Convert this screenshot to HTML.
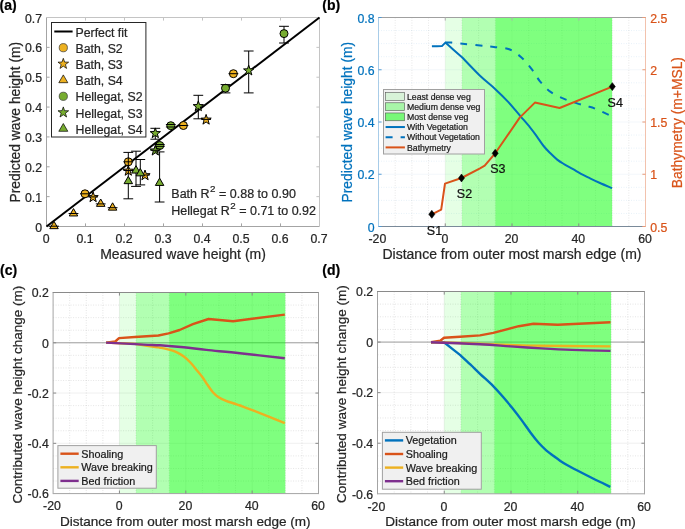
<!DOCTYPE html>
<html><head><meta charset="utf-8"><style>
html,body{margin:0;padding:0;background:#fff;}
svg{display:block;will-change:transform;}
text{font-family:"Liberation Sans", sans-serif;stroke:currentColor;stroke-width:0.22px;}
</style></head><body>
<svg width="685" height="529" viewBox="0 0 685 529">
<rect width="685" height="529" fill="#fff"/>
<g id="pa">
<line x1="46.5" y1="226.5" x2="319.5" y2="226.5" stroke="#a4a4a4" stroke-width="1" />
<line x1="46.5" y1="227" x2="46.5" y2="17.5" stroke="#a4a4a4" stroke-width="1" />
<line x1="46" y1="17.5" x2="320" y2="17.5" stroke="#c4c4c4" stroke-width="1" />
<line x1="319.5" y1="17.5" x2="319.5" y2="226.5" stroke="#c4c4c4" stroke-width="1" />
<text x="46.1" y="243.4" font-size="12.3" text-anchor="middle" fill="#262626" color="#262626" font-weight="normal" >0</text>
<text x="42" y="231.5" font-size="12.3" text-anchor="end" fill="#262626" color="#262626" font-weight="normal" >0</text>
<line x1="85.5" y1="226.5" x2="85.5" y2="223.4" stroke="#a4a4a4" stroke-width="1" />
<line x1="85.5" y1="17.5" x2="85.5" y2="20.6" stroke="#c4c4c4" stroke-width="1" />
<line x1="46.5" y1="196.64" x2="49.6" y2="196.64" stroke="#a4a4a4" stroke-width="1" />
<line x1="319.5" y1="196.64" x2="316.4" y2="196.64" stroke="#c4c4c4" stroke-width="1" />
<text x="85.1" y="243.4" font-size="12.3" text-anchor="middle" fill="#262626" color="#262626" font-weight="normal" >0.1</text>
<text x="42" y="201.64" font-size="12.3" text-anchor="end" fill="#262626" color="#262626" font-weight="normal" >0.1</text>
<line x1="124.5" y1="226.5" x2="124.5" y2="223.4" stroke="#a4a4a4" stroke-width="1" />
<line x1="124.5" y1="17.5" x2="124.5" y2="20.6" stroke="#c4c4c4" stroke-width="1" />
<line x1="46.5" y1="166.79" x2="49.6" y2="166.79" stroke="#a4a4a4" stroke-width="1" />
<line x1="319.5" y1="166.79" x2="316.4" y2="166.79" stroke="#c4c4c4" stroke-width="1" />
<text x="124.1" y="243.4" font-size="12.3" text-anchor="middle" fill="#262626" color="#262626" font-weight="normal" >0.2</text>
<text x="42" y="171.79" font-size="12.3" text-anchor="end" fill="#262626" color="#262626" font-weight="normal" >0.2</text>
<line x1="163.5" y1="226.5" x2="163.5" y2="223.4" stroke="#a4a4a4" stroke-width="1" />
<line x1="163.5" y1="17.5" x2="163.5" y2="20.6" stroke="#c4c4c4" stroke-width="1" />
<line x1="46.5" y1="136.93" x2="49.6" y2="136.93" stroke="#a4a4a4" stroke-width="1" />
<line x1="319.5" y1="136.93" x2="316.4" y2="136.93" stroke="#c4c4c4" stroke-width="1" />
<text x="163.1" y="243.4" font-size="12.3" text-anchor="middle" fill="#262626" color="#262626" font-weight="normal" >0.3</text>
<text x="42" y="141.93" font-size="12.3" text-anchor="end" fill="#262626" color="#262626" font-weight="normal" >0.3</text>
<line x1="202.5" y1="226.5" x2="202.5" y2="223.4" stroke="#a4a4a4" stroke-width="1" />
<line x1="202.5" y1="17.5" x2="202.5" y2="20.6" stroke="#c4c4c4" stroke-width="1" />
<line x1="46.5" y1="107.07" x2="49.6" y2="107.07" stroke="#a4a4a4" stroke-width="1" />
<line x1="319.5" y1="107.07" x2="316.4" y2="107.07" stroke="#c4c4c4" stroke-width="1" />
<text x="202.1" y="243.4" font-size="12.3" text-anchor="middle" fill="#262626" color="#262626" font-weight="normal" >0.4</text>
<text x="42" y="112.07" font-size="12.3" text-anchor="end" fill="#262626" color="#262626" font-weight="normal" >0.4</text>
<line x1="241.5" y1="226.5" x2="241.5" y2="223.4" stroke="#a4a4a4" stroke-width="1" />
<line x1="241.5" y1="17.5" x2="241.5" y2="20.6" stroke="#c4c4c4" stroke-width="1" />
<line x1="46.5" y1="77.21" x2="49.6" y2="77.21" stroke="#a4a4a4" stroke-width="1" />
<line x1="319.5" y1="77.21" x2="316.4" y2="77.21" stroke="#c4c4c4" stroke-width="1" />
<text x="241.1" y="243.4" font-size="12.3" text-anchor="middle" fill="#262626" color="#262626" font-weight="normal" >0.5</text>
<text x="42" y="82.21" font-size="12.3" text-anchor="end" fill="#262626" color="#262626" font-weight="normal" >0.5</text>
<line x1="280.5" y1="226.5" x2="280.5" y2="223.4" stroke="#a4a4a4" stroke-width="1" />
<line x1="280.5" y1="17.5" x2="280.5" y2="20.6" stroke="#c4c4c4" stroke-width="1" />
<line x1="46.5" y1="47.36" x2="49.6" y2="47.36" stroke="#a4a4a4" stroke-width="1" />
<line x1="319.5" y1="47.36" x2="316.4" y2="47.36" stroke="#c4c4c4" stroke-width="1" />
<text x="280.1" y="243.4" font-size="12.3" text-anchor="middle" fill="#262626" color="#262626" font-weight="normal" >0.6</text>
<text x="42" y="52.36" font-size="12.3" text-anchor="end" fill="#262626" color="#262626" font-weight="normal" >0.6</text>
<text x="319.1" y="243.4" font-size="12.3" text-anchor="middle" fill="#262626" color="#262626" font-weight="normal" >0.7</text>
<text x="42" y="22.5" font-size="12.3" text-anchor="end" fill="#262626" color="#262626" font-weight="normal" >0.7</text>
<text x="183" y="259.2" font-size="14" text-anchor="middle" fill="#262626" color="#262626" font-weight="normal" >Measured wave height (m)</text>
<text transform="translate(19.9,122.2) rotate(-90)" font-size="13.85" text-anchor="middle" fill="#262626" color="#262626">Predicted wave height (m)</text>
<line x1="46.5" y1="226.5" x2="319.5" y2="17.5" stroke="#000" stroke-width="2" />
<circle cx="85" cy="193.8" r="4.0" fill="#EDB120" stroke="#000" stroke-width="1"/>
<circle cx="128.3" cy="161.8" r="4.0" fill="#EDB120" stroke="#000" stroke-width="1"/>
<circle cx="183.4" cy="125.5" r="4.0" fill="#EDB120" stroke="#000" stroke-width="1"/>
<circle cx="233.4" cy="73.7" r="4.0" fill="#EDB120" stroke="#000" stroke-width="1"/>
<line x1="80.1" y1="193.8" x2="89.9" y2="193.8" stroke="#000" stroke-width="1" />
<line x1="123.4" y1="161.8" x2="133.2" y2="161.8" stroke="#000" stroke-width="1" />
<line x1="178.5" y1="125.5" x2="188.3" y2="125.5" stroke="#000" stroke-width="1" />
<line x1="228.5" y1="73.7" x2="238.3" y2="73.7" stroke="#000" stroke-width="1" />
<polygon points="93.10,191.90 94.37,195.55 98.24,195.63 95.15,197.97 96.27,201.67 93.10,199.46 89.93,201.67 91.05,197.97 87.96,195.63 91.83,195.55" fill="#EDB120" stroke="#000" stroke-width="1" stroke-linejoin="miter"/>
<polygon points="128.30,165.50 129.57,169.15 133.44,169.23 130.35,171.57 131.47,175.27 128.30,173.06 125.13,175.27 126.25,171.57 123.16,169.23 127.03,169.15" fill="#EDB120" stroke="#000" stroke-width="1" stroke-linejoin="miter"/>
<polygon points="145.00,170.00 146.27,173.65 150.14,173.73 147.05,176.07 148.17,179.77 145.00,177.56 141.83,179.77 142.95,176.07 139.86,173.73 143.73,173.65" fill="#EDB120" stroke="#000" stroke-width="1" stroke-linejoin="miter"/>
<polygon points="206.10,114.40 207.37,118.05 211.24,118.13 208.15,120.47 209.27,124.17 206.10,121.96 202.93,124.17 204.05,120.47 200.96,118.13 204.83,118.05" fill="#EDB120" stroke="#000" stroke-width="1" stroke-linejoin="miter"/>
<line x1="88.2" y1="196.9" x2="98" y2="196.9" stroke="#000" stroke-width="1" />
<line x1="123.4" y1="170.5" x2="133.2" y2="170.5" stroke="#000" stroke-width="1" />
<line x1="140.1" y1="175" x2="149.9" y2="175" stroke="#000" stroke-width="1" />
<line x1="201.2" y1="119.4" x2="211" y2="119.4" stroke="#000" stroke-width="1" />
<polygon points="54.00,221.30 58.24,228.65 49.76,228.65" fill="#EDB120" stroke="#000" stroke-width="1" stroke-linejoin="miter"/>
<polygon points="73.50,208.60 77.74,215.95 69.26,215.95" fill="#EDB120" stroke="#000" stroke-width="1" stroke-linejoin="miter"/>
<polygon points="100.70,199.00 104.94,206.35 96.46,206.35" fill="#EDB120" stroke="#000" stroke-width="1" stroke-linejoin="miter"/>
<polygon points="112.60,202.80 116.84,210.15 108.36,210.15" fill="#EDB120" stroke="#000" stroke-width="1" stroke-linejoin="miter"/>
<line x1="49.1" y1="226.2" x2="58.9" y2="226.2" stroke="#000" stroke-width="1" />
<line x1="68.6" y1="213.5" x2="78.4" y2="213.5" stroke="#000" stroke-width="1" />
<line x1="95.8" y1="203.9" x2="105.6" y2="203.9" stroke="#000" stroke-width="1" />
<line x1="107.7" y1="207.7" x2="117.5" y2="207.7" stroke="#000" stroke-width="1" />
<line x1="159.8" y1="144.5" x2="159.8" y2="146.4" stroke="#000" stroke-width="1" />
<line x1="170.8" y1="124.5" x2="170.8" y2="127" stroke="#000" stroke-width="1" />
<line x1="225.5" y1="84.6" x2="225.5" y2="92.9" stroke="#000" stroke-width="1" />
<line x1="284" y1="26.3" x2="284" y2="43" stroke="#000" stroke-width="1" />
<circle cx="159.8" cy="145.5" r="4.0" fill="#77AC30" stroke="#000" stroke-width="1"/>
<circle cx="170.8" cy="125.7" r="4.0" fill="#77AC30" stroke="#000" stroke-width="1"/>
<circle cx="225.5" cy="88.2" r="4.0" fill="#77AC30" stroke="#000" stroke-width="1"/>
<circle cx="284" cy="33.6" r="4.0" fill="#77AC30" stroke="#000" stroke-width="1"/>
<line x1="154.9" y1="144.5" x2="164.7" y2="144.5" stroke="#000" stroke-width="1" />
<line x1="154.9" y1="146.4" x2="164.7" y2="146.4" stroke="#000" stroke-width="1" />
<line x1="165.9" y1="124.5" x2="175.7" y2="124.5" stroke="#000" stroke-width="1" />
<line x1="165.9" y1="127" x2="175.7" y2="127" stroke="#000" stroke-width="1" />
<line x1="220.6" y1="84.6" x2="230.4" y2="84.6" stroke="#000" stroke-width="1" />
<line x1="220.6" y1="92.9" x2="230.4" y2="92.9" stroke="#000" stroke-width="1" />
<line x1="279.1" y1="26.3" x2="288.9" y2="26.3" stroke="#000" stroke-width="1" />
<line x1="279.1" y1="43" x2="288.9" y2="43" stroke="#000" stroke-width="1" />
<line x1="155.3" y1="128.3" x2="155.3" y2="139.2" stroke="#000" stroke-width="1" />
<line x1="198.3" y1="95.3" x2="198.3" y2="118.8" stroke="#000" stroke-width="1" />
<line x1="248.7" y1="51" x2="248.7" y2="92.9" stroke="#000" stroke-width="1" />
<polygon points="155.30,127.90 156.57,131.55 160.44,131.63 157.35,133.97 158.47,137.67 155.30,135.46 152.13,137.67 153.25,133.97 150.16,131.63 154.03,131.55" fill="#77AC30" stroke="#000" stroke-width="1" stroke-linejoin="miter"/>
<polygon points="155.30,145.30 156.57,148.95 160.44,149.03 157.35,151.37 158.47,155.07 155.30,152.86 152.13,155.07 153.25,151.37 150.16,149.03 154.03,148.95" fill="#77AC30" stroke="#000" stroke-width="1" stroke-linejoin="miter"/>
<polygon points="198.30,100.90 199.57,104.55 203.44,104.63 200.35,106.97 201.47,110.67 198.30,108.46 195.13,110.67 196.25,106.97 193.16,104.63 197.03,104.55" fill="#77AC30" stroke="#000" stroke-width="1" stroke-linejoin="miter"/>
<polygon points="248.70,65.20 249.97,68.85 253.84,68.93 250.75,71.27 251.87,74.97 248.70,72.76 245.53,74.97 246.65,71.27 243.56,68.93 247.43,68.85" fill="#77AC30" stroke="#000" stroke-width="1" stroke-linejoin="miter"/>
<line x1="150.4" y1="128.3" x2="160.2" y2="128.3" stroke="#000" stroke-width="1" />
<line x1="150.4" y1="139.2" x2="160.2" y2="139.2" stroke="#000" stroke-width="1" />
<line x1="150.4" y1="150.3" x2="160.2" y2="150.3" stroke="#000" stroke-width="1" />
<line x1="193.4" y1="95.3" x2="203.2" y2="95.3" stroke="#000" stroke-width="1" />
<line x1="193.4" y1="118.8" x2="203.2" y2="118.8" stroke="#000" stroke-width="1" />
<line x1="243.8" y1="51" x2="253.6" y2="51" stroke="#000" stroke-width="1" />
<line x1="243.8" y1="92.9" x2="253.6" y2="92.9" stroke="#000" stroke-width="1" />
<line x1="128.3" y1="152.4" x2="128.3" y2="198.8" stroke="#000" stroke-width="1" />
<line x1="136" y1="151.2" x2="136" y2="186.4" stroke="#000" stroke-width="1" />
<line x1="140.3" y1="159.5" x2="140.3" y2="184.9" stroke="#000" stroke-width="1" />
<line x1="159.6" y1="151.9" x2="159.6" y2="202" stroke="#000" stroke-width="1" />
<polygon points="128.30,176.30 132.54,183.65 124.06,183.65" fill="#77AC30" stroke="#000" stroke-width="1" stroke-linejoin="miter"/>
<polygon points="136.00,165.70 140.24,173.05 131.76,173.05" fill="#77AC30" stroke="#000" stroke-width="1" stroke-linejoin="miter"/>
<polygon points="140.30,168.50 144.54,175.85 136.06,175.85" fill="#77AC30" stroke="#000" stroke-width="1" stroke-linejoin="miter"/>
<polygon points="159.60,178.10 163.84,185.45 155.36,185.45" fill="#77AC30" stroke="#000" stroke-width="1" stroke-linejoin="miter"/>
<line x1="123.4" y1="152.4" x2="133.2" y2="152.4" stroke="#000" stroke-width="1" />
<line x1="123.4" y1="198.8" x2="133.2" y2="198.8" stroke="#000" stroke-width="1" />
<line x1="131.1" y1="151.2" x2="140.9" y2="151.2" stroke="#000" stroke-width="1" />
<line x1="131.1" y1="186.4" x2="140.9" y2="186.4" stroke="#000" stroke-width="1" />
<line x1="135.4" y1="159.5" x2="145.2" y2="159.5" stroke="#000" stroke-width="1" />
<line x1="135.4" y1="184.9" x2="145.2" y2="184.9" stroke="#000" stroke-width="1" />
<line x1="154.7" y1="151.9" x2="164.5" y2="151.9" stroke="#000" stroke-width="1" />
<line x1="154.7" y1="202" x2="164.5" y2="202" stroke="#000" stroke-width="1" />
<rect x="51.5" y="22.5" width="94.4" height="114.5" fill="#fff" stroke="#262626" stroke-width="1" />
<line x1="54.3" y1="31.5" x2="72.6" y2="31.5" stroke="#000" stroke-width="2" />
<text x="75.5" y="36.5" font-size="12.3" text-anchor="start" fill="#262626" color="#262626" font-weight="normal" >Perfect fit</text>
<circle cx="63.3" cy="47.7" r="4.1" fill="#EDB120" stroke="#333" stroke-width="0.7"/>
<text x="75.5" y="52.7" font-size="12.3" text-anchor="start" fill="#262626" color="#262626" font-weight="normal" >Bath, S2</text>
<polygon points="63.30,58.30 64.62,62.09 68.63,62.17 65.43,64.59 66.59,68.43 63.30,66.14 60.01,68.43 61.17,64.59 57.97,62.17 61.98,62.09" fill="#EDB120" stroke="#000" stroke-width="0.7" stroke-linejoin="miter"/>
<text x="75.5" y="68.9" font-size="12.3" text-anchor="start" fill="#262626" color="#262626" font-weight="normal" >Bath, S3</text>
<polygon points="63.30,74.90 67.80,82.70 58.80,82.70" fill="#EDB120" stroke="#000" stroke-width="0.7" stroke-linejoin="miter"/>
<text x="75.5" y="85.1" font-size="12.3" text-anchor="start" fill="#262626" color="#262626" font-weight="normal" >Bath, S4</text>
<circle cx="63.3" cy="96.3" r="4.1" fill="#77AC30" stroke="#333" stroke-width="0.7"/>
<text x="75.5" y="101.3" font-size="12.3" text-anchor="start" fill="#262626" color="#262626" font-weight="normal" >Hellegat, S2</text>
<polygon points="63.30,106.90 64.62,110.69 68.63,110.77 65.43,113.19 66.59,117.03 63.30,114.74 60.01,117.03 61.17,113.19 57.97,110.77 61.98,110.69" fill="#77AC30" stroke="#000" stroke-width="0.7" stroke-linejoin="miter"/>
<text x="75.5" y="117.5" font-size="12.3" text-anchor="start" fill="#262626" color="#262626" font-weight="normal" >Hellegat, S3</text>
<polygon points="63.30,123.50 67.80,131.30 58.80,131.30" fill="#77AC30" stroke="#000" stroke-width="0.7" stroke-linejoin="miter"/>
<text x="75.5" y="133.7" font-size="12.3" text-anchor="start" fill="#262626" color="#262626" font-weight="normal" >Hellegat, S4</text>
<text x="171.3" y="197.8" font-size="12.5" fill="#262626" color="#262626">Bath R<tspan dx="0.6" dy="-6.3" font-size="9.8">2</tspan><tspan dy="6.3"> = 0.88 to 0.90</tspan></text>
<text x="171.3" y="215.1" font-size="12.5" fill="#262626" color="#262626">Hellegat R<tspan dx="0.6" dy="-6.3" font-size="9.8">2</tspan><tspan dy="6.3"> = 0.71 to 0.92</tspan></text>
<text x="-0.5" y="10.2" font-size="14" text-anchor="start" fill="#000" color="#000" font-weight="bold" >(a)</text>
</g>
<g id="pb">
<line x1="395.19" y1="17.5" x2="395.19" y2="226.5" stroke="rgba(38,38,38,0.18)" stroke-width="0.6" stroke-dasharray="1 1.5"/>
<line x1="411.88" y1="17.5" x2="411.88" y2="226.5" stroke="rgba(38,38,38,0.18)" stroke-width="0.6" stroke-dasharray="1 1.5"/>
<line x1="428.56" y1="17.5" x2="428.56" y2="226.5" stroke="rgba(38,38,38,0.18)" stroke-width="0.6" stroke-dasharray="1 1.5"/>
<line x1="461.94" y1="17.5" x2="461.94" y2="226.5" stroke="rgba(38,38,38,0.18)" stroke-width="0.6" stroke-dasharray="1 1.5"/>
<line x1="478.62" y1="17.5" x2="478.62" y2="226.5" stroke="rgba(38,38,38,0.18)" stroke-width="0.6" stroke-dasharray="1 1.5"/>
<line x1="495.31" y1="17.5" x2="495.31" y2="226.5" stroke="rgba(38,38,38,0.18)" stroke-width="0.6" stroke-dasharray="1 1.5"/>
<line x1="528.69" y1="17.5" x2="528.69" y2="226.5" stroke="rgba(38,38,38,0.18)" stroke-width="0.6" stroke-dasharray="1 1.5"/>
<line x1="545.38" y1="17.5" x2="545.38" y2="226.5" stroke="rgba(38,38,38,0.18)" stroke-width="0.6" stroke-dasharray="1 1.5"/>
<line x1="562.06" y1="17.5" x2="562.06" y2="226.5" stroke="rgba(38,38,38,0.18)" stroke-width="0.6" stroke-dasharray="1 1.5"/>
<line x1="595.44" y1="17.5" x2="595.44" y2="226.5" stroke="rgba(38,38,38,0.18)" stroke-width="0.6" stroke-dasharray="1 1.5"/>
<line x1="612.12" y1="17.5" x2="612.12" y2="226.5" stroke="rgba(38,38,38,0.18)" stroke-width="0.6" stroke-dasharray="1 1.5"/>
<line x1="628.81" y1="17.5" x2="628.81" y2="226.5" stroke="rgba(38,38,38,0.18)" stroke-width="0.6" stroke-dasharray="1 1.5"/>
<line x1="378.5" y1="213.44" x2="645.5" y2="213.44" stroke="rgba(0,114,189,0.16)" stroke-width="0.6" stroke-dasharray="1 1.5"/>
<line x1="378.5" y1="200.38" x2="645.5" y2="200.38" stroke="rgba(0,114,189,0.16)" stroke-width="0.6" stroke-dasharray="1 1.5"/>
<line x1="378.5" y1="187.31" x2="645.5" y2="187.31" stroke="rgba(0,114,189,0.16)" stroke-width="0.6" stroke-dasharray="1 1.5"/>
<line x1="378.5" y1="161.19" x2="645.5" y2="161.19" stroke="rgba(0,114,189,0.16)" stroke-width="0.6" stroke-dasharray="1 1.5"/>
<line x1="378.5" y1="148.12" x2="645.5" y2="148.12" stroke="rgba(0,114,189,0.16)" stroke-width="0.6" stroke-dasharray="1 1.5"/>
<line x1="378.5" y1="135.06" x2="645.5" y2="135.06" stroke="rgba(0,114,189,0.16)" stroke-width="0.6" stroke-dasharray="1 1.5"/>
<line x1="378.5" y1="108.94" x2="645.5" y2="108.94" stroke="rgba(0,114,189,0.16)" stroke-width="0.6" stroke-dasharray="1 1.5"/>
<line x1="378.5" y1="95.88" x2="645.5" y2="95.88" stroke="rgba(0,114,189,0.16)" stroke-width="0.6" stroke-dasharray="1 1.5"/>
<line x1="378.5" y1="82.81" x2="645.5" y2="82.81" stroke="rgba(0,114,189,0.16)" stroke-width="0.6" stroke-dasharray="1 1.5"/>
<line x1="378.5" y1="56.69" x2="645.5" y2="56.69" stroke="rgba(0,114,189,0.16)" stroke-width="0.6" stroke-dasharray="1 1.5"/>
<line x1="378.5" y1="43.62" x2="645.5" y2="43.62" stroke="rgba(0,114,189,0.16)" stroke-width="0.6" stroke-dasharray="1 1.5"/>
<line x1="378.5" y1="30.56" x2="645.5" y2="30.56" stroke="rgba(0,114,189,0.16)" stroke-width="0.6" stroke-dasharray="1 1.5"/>
<line x1="445.25" y1="17.5" x2="445.25" y2="226.5" stroke="rgba(38,38,38,0.07)" stroke-width="0.7" />
<line x1="512" y1="17.5" x2="512" y2="226.5" stroke="rgba(38,38,38,0.07)" stroke-width="0.7" />
<line x1="578.75" y1="17.5" x2="578.75" y2="226.5" stroke="rgba(38,38,38,0.07)" stroke-width="0.7" />
<line x1="378.5" y1="174.25" x2="645.5" y2="174.25" stroke="rgba(0,114,189,0.07)" stroke-width="0.7" />
<line x1="378.5" y1="122" x2="645.5" y2="122" stroke="rgba(0,114,189,0.07)" stroke-width="0.7" />
<line x1="378.5" y1="69.75" x2="645.5" y2="69.75" stroke="rgba(0,114,189,0.07)" stroke-width="0.7" />
<rect x="445.25" y="17.5" width="16.69" height="209" fill="#00ff00" stroke="none" stroke-width="1" fill-opacity="0.1"/>
<rect x="461.94" y="17.5" width="33.38" height="209" fill="#00ff00" stroke="none" stroke-width="1" fill-opacity="0.3"/>
<rect x="495.31" y="17.5" width="116.81" height="209" fill="#00ff00" stroke="none" stroke-width="1" fill-opacity="0.5"/>
<line x1="378.5" y1="226.5" x2="645.5" y2="226.5" stroke="#7a8a99" stroke-width="1" />
<line x1="378" y1="17.5" x2="646" y2="17.5" stroke="#a0a0a0" stroke-width="1" />
<line x1="378.5" y1="17.5" x2="378.5" y2="227" stroke="#a8cce8" stroke-width="1" />
<line x1="645.5" y1="17.5" x2="645.5" y2="227" stroke="#f2c2ad" stroke-width="1" />
<text x="377.4" y="243" font-size="12.3" text-anchor="middle" fill="#262626" color="#262626" font-weight="normal" >-20</text>
<line x1="445.25" y1="226.5" x2="445.25" y2="223.4" stroke="#8a8a8a" stroke-width="1" />
<line x1="445.25" y1="17.5" x2="445.25" y2="20.6" stroke="#b0b0b0" stroke-width="1" />
<text x="444.85" y="243" font-size="12.3" text-anchor="middle" fill="#262626" color="#262626" font-weight="normal" >0</text>
<line x1="512" y1="226.5" x2="512" y2="223.4" stroke="#8a8a8a" stroke-width="1" />
<line x1="512" y1="17.5" x2="512" y2="20.6" stroke="#b0b0b0" stroke-width="1" />
<text x="511.6" y="243" font-size="12.3" text-anchor="middle" fill="#262626" color="#262626" font-weight="normal" >20</text>
<line x1="578.75" y1="226.5" x2="578.75" y2="223.4" stroke="#8a8a8a" stroke-width="1" />
<line x1="578.75" y1="17.5" x2="578.75" y2="20.6" stroke="#b0b0b0" stroke-width="1" />
<text x="578.35" y="243" font-size="12.3" text-anchor="middle" fill="#262626" color="#262626" font-weight="normal" >40</text>
<text x="645.1" y="243" font-size="12.3" text-anchor="middle" fill="#262626" color="#262626" font-weight="normal" >60</text>
<line x1="378.5" y1="226.5" x2="381.6" y2="226.5" stroke="#4f97d0" stroke-width="1" />
<text x="374.5" y="231.5" font-size="12.3" text-anchor="end" fill="#0072BD" color="#0072BD" font-weight="normal" >0</text>
<line x1="378.5" y1="174.25" x2="381.6" y2="174.25" stroke="#5a9fd6" stroke-width="1" />
<text x="374.5" y="179.25" font-size="12.3" text-anchor="end" fill="#0072BD" color="#0072BD" font-weight="normal" >0.2</text>
<line x1="378.5" y1="122" x2="381.6" y2="122" stroke="#5a9fd6" stroke-width="1" />
<text x="374.5" y="127" font-size="12.3" text-anchor="end" fill="#0072BD" color="#0072BD" font-weight="normal" >0.4</text>
<line x1="378.5" y1="69.75" x2="381.6" y2="69.75" stroke="#5a9fd6" stroke-width="1" />
<text x="374.5" y="74.75" font-size="12.3" text-anchor="end" fill="#0072BD" color="#0072BD" font-weight="normal" >0.6</text>
<line x1="378.5" y1="17.5" x2="381.6" y2="17.5" stroke="#4f97d0" stroke-width="1" />
<text x="374.5" y="22.5" font-size="12.3" text-anchor="end" fill="#0072BD" color="#0072BD" font-weight="normal" >0.8</text>
<line x1="645.5" y1="226.5" x2="642.4" y2="226.5" stroke="#e89a78" stroke-width="1" />
<text x="650.2" y="231.5" font-size="12.3" text-anchor="start" fill="#D95319" color="#D95319" font-weight="normal" >0.5</text>
<line x1="645.5" y1="174.25" x2="642.4" y2="174.25" stroke="#e89a78" stroke-width="1" />
<text x="650.2" y="179.25" font-size="12.3" text-anchor="start" fill="#D95319" color="#D95319" font-weight="normal" >1</text>
<line x1="645.5" y1="122" x2="642.4" y2="122" stroke="#e89a78" stroke-width="1" />
<text x="650.2" y="127" font-size="12.3" text-anchor="start" fill="#D95319" color="#D95319" font-weight="normal" >1.5</text>
<line x1="645.5" y1="69.75" x2="642.4" y2="69.75" stroke="#e89a78" stroke-width="1" />
<text x="650.2" y="74.75" font-size="12.3" text-anchor="start" fill="#D95319" color="#D95319" font-weight="normal" >2</text>
<line x1="645.5" y1="17.5" x2="642.4" y2="17.5" stroke="#e89a78" stroke-width="1" />
<text x="650.2" y="22.5" font-size="12.3" text-anchor="start" fill="#D95319" color="#D95319" font-weight="normal" >2.5</text>
<text x="512" y="258.8" font-size="14" text-anchor="middle" fill="#262626" color="#262626" font-weight="normal" >Distance from outer most marsh edge (m)</text>
<text transform="translate(352,122.2) rotate(-90)" font-size="13.85" text-anchor="middle" fill="#0072BD" color="#0072BD">Predicted wave height (m)</text>
<text transform="translate(682.3,122.6) rotate(-90)" font-size="13.85" text-anchor="middle" fill="#D95319" color="#D95319">Bathymetry (m+MSL)</text>
<path d="M431.90,46.30 C433.57,46.27 440.23,46.13 441.90,46.10 C442.48,45.52 444.82,43.18 445.40,42.60 C448.17,45.03 459.23,54.77 462.00,57.20 C465.00,60.28 474.48,70.42 480.00,75.70 C485.52,80.98 490.37,84.50 495.10,88.90 C499.83,93.30 504.15,97.53 508.40,102.10 C512.65,106.67 517.00,112.10 520.60,116.30 C524.20,120.50 527.30,123.97 530.00,127.30 C532.70,130.63 534.53,133.18 536.80,136.30 C539.07,139.42 541.33,143.17 543.60,146.00 C545.87,148.83 548.13,151.03 550.40,153.30 C552.67,155.57 554.93,157.80 557.20,159.60 C559.47,161.40 561.35,162.50 564.00,164.10 C566.65,165.70 570.27,167.58 573.10,169.20 C575.93,170.82 578.18,172.28 581.00,173.80 C583.82,175.32 586.83,176.77 590.00,178.30 C593.17,179.83 596.32,181.35 600.00,183.00 C603.68,184.65 610.08,187.33 612.10,188.20" fill="none" stroke="#0072BD" stroke-width="2" stroke-linejoin="round" />
<path d="M445.40,42.60 C446.42,42.60 450.48,42.60 451.50,42.60 C458.58,43.32 486.92,46.18 494.00,46.90 C496.53,47.30 504.62,47.53 509.20,49.30 C513.78,51.07 517.75,54.20 521.50,57.50 C525.25,60.80 528.62,65.13 531.70,69.10 C534.78,73.07 536.85,77.50 540.00,81.30 C543.15,85.10 546.58,88.98 550.60,91.90 C554.62,94.82 559.80,96.93 564.10,98.80 C568.40,100.67 572.63,101.88 576.40,103.10 C580.17,104.32 583.52,105.15 586.70,106.10 C589.88,107.05 591.35,107.10 595.50,108.80 C599.65,110.50 608.92,115.05 611.60,116.30" fill="none" stroke="#0072BD" stroke-width="2" stroke-linejoin="round" stroke-dasharray="7 8"/>
<polyline points="431.8,214.3 441.2,209.6 445,183.6 461.5,178 480,168.3 484.7,165.7 495.2,153.3 519.7,117.6 534.9,102.6 559.6,108 612.3,86.6" fill="none" stroke="#D95319" stroke-width="2" stroke-linejoin="round" stroke-linecap="butt" />
<polygon points="431.80,210.35 434.80,214.30 431.80,218.25 428.80,214.30" fill="#000" stroke="#000" stroke-width="0.6"/>
<polygon points="461.50,174.05 464.50,178.00 461.50,181.95 458.50,178.00" fill="#000" stroke="#000" stroke-width="0.6"/>
<polygon points="495.20,149.35 498.20,153.30 495.20,157.25 492.20,153.30" fill="#000" stroke="#000" stroke-width="0.6"/>
<polygon points="612.30,82.65 615.30,86.60 612.30,90.55 609.30,86.60" fill="#000" stroke="#000" stroke-width="0.6"/>
<text x="426.8" y="235" font-size="12.5" text-anchor="start" fill="#111" color="#111" font-weight="normal" >S1</text>
<text x="456.8" y="197.6" font-size="12.5" text-anchor="start" fill="#111" color="#111" font-weight="normal" >S2</text>
<text x="490.2" y="173.4" font-size="12.5" text-anchor="start" fill="#111" color="#111" font-weight="normal" >S3</text>
<text x="607.6" y="107" font-size="12.5" text-anchor="start" fill="#111" color="#111" font-weight="normal" >S4</text>
<rect x="383.5" y="89.5" width="101" height="64.5" fill="#f0f0f0" stroke="#a0a0a0" stroke-width="1" />
<rect x="385.3" y="92.6" width="19.4" height="7.8" fill="#d8f2d8" stroke="#555" stroke-width="0.6" />
<rect x="385.3" y="102.78" width="19.4" height="7.8" fill="#a8f5a8" stroke="#555" stroke-width="0.6" />
<rect x="385.3" y="112.96" width="19.4" height="7.8" fill="#78f878" stroke="#555" stroke-width="0.6" />
<line x1="385.6" y1="127.04" x2="404.9" y2="127.04" stroke="#0072BD" stroke-width="2" />
<line x1="385.6" y1="137.22" x2="404.9" y2="137.22" stroke="#0072BD" stroke-width="2" stroke-dasharray="7 8"/>
<line x1="385.6" y1="147.4" x2="404.9" y2="147.4" stroke="#D95319" stroke-width="2" />
<text x="407" y="99.6" font-size="8.7" text-anchor="start" fill="#1a1a1a" color="#1a1a1a" font-weight="normal" >Least dense veg</text>
<text x="407" y="109.78" font-size="8.7" text-anchor="start" fill="#1a1a1a" color="#1a1a1a" font-weight="normal" >Medium dense veg</text>
<text x="407" y="119.96" font-size="8.7" text-anchor="start" fill="#1a1a1a" color="#1a1a1a" font-weight="normal" >Most dense veg</text>
<text x="407" y="130.14" font-size="8.7" text-anchor="start" fill="#1a1a1a" color="#1a1a1a" font-weight="normal" >With Vegetation</text>
<text x="407" y="140.32" font-size="8.7" text-anchor="start" fill="#1a1a1a" color="#1a1a1a" font-weight="normal" >Without Vegetation</text>
<text x="407" y="150.5" font-size="8.7" text-anchor="start" fill="#1a1a1a" color="#1a1a1a" font-weight="normal" >Bathymetry</text>
<text x="322.3" y="10.2" font-size="14" text-anchor="start" fill="#000" color="#000" font-weight="bold" >(b)</text>
</g>
<g id="pc">
<line x1="69.69" y1="292.5" x2="69.69" y2="493.6" stroke="rgba(38,38,38,0.20)" stroke-width="0.6" stroke-dasharray="1 1.5"/>
<line x1="86.28" y1="292.5" x2="86.28" y2="493.6" stroke="rgba(38,38,38,0.20)" stroke-width="0.6" stroke-dasharray="1 1.5"/>
<line x1="102.86" y1="292.5" x2="102.86" y2="493.6" stroke="rgba(38,38,38,0.20)" stroke-width="0.6" stroke-dasharray="1 1.5"/>
<line x1="136.04" y1="292.5" x2="136.04" y2="493.6" stroke="rgba(38,38,38,0.20)" stroke-width="0.6" stroke-dasharray="1 1.5"/>
<line x1="152.62" y1="292.5" x2="152.62" y2="493.6" stroke="rgba(38,38,38,0.20)" stroke-width="0.6" stroke-dasharray="1 1.5"/>
<line x1="169.21" y1="292.5" x2="169.21" y2="493.6" stroke="rgba(38,38,38,0.20)" stroke-width="0.6" stroke-dasharray="1 1.5"/>
<line x1="202.39" y1="292.5" x2="202.39" y2="493.6" stroke="rgba(38,38,38,0.20)" stroke-width="0.6" stroke-dasharray="1 1.5"/>
<line x1="218.97" y1="292.5" x2="218.97" y2="493.6" stroke="rgba(38,38,38,0.20)" stroke-width="0.6" stroke-dasharray="1 1.5"/>
<line x1="235.56" y1="292.5" x2="235.56" y2="493.6" stroke="rgba(38,38,38,0.20)" stroke-width="0.6" stroke-dasharray="1 1.5"/>
<line x1="268.74" y1="292.5" x2="268.74" y2="493.6" stroke="rgba(38,38,38,0.20)" stroke-width="0.6" stroke-dasharray="1 1.5"/>
<line x1="285.32" y1="292.5" x2="285.32" y2="493.6" stroke="rgba(38,38,38,0.20)" stroke-width="0.6" stroke-dasharray="1 1.5"/>
<line x1="301.91" y1="292.5" x2="301.91" y2="493.6" stroke="rgba(38,38,38,0.20)" stroke-width="0.6" stroke-dasharray="1 1.5"/>
<line x1="53.1" y1="481.03" x2="318.5" y2="481.03" stroke="rgba(38,38,38,0.20)" stroke-width="0.6" stroke-dasharray="1 1.5"/>
<line x1="53.1" y1="468.46" x2="318.5" y2="468.46" stroke="rgba(38,38,38,0.20)" stroke-width="0.6" stroke-dasharray="1 1.5"/>
<line x1="53.1" y1="455.89" x2="318.5" y2="455.89" stroke="rgba(38,38,38,0.20)" stroke-width="0.6" stroke-dasharray="1 1.5"/>
<line x1="53.1" y1="430.76" x2="318.5" y2="430.76" stroke="rgba(38,38,38,0.20)" stroke-width="0.6" stroke-dasharray="1 1.5"/>
<line x1="53.1" y1="418.19" x2="318.5" y2="418.19" stroke="rgba(38,38,38,0.20)" stroke-width="0.6" stroke-dasharray="1 1.5"/>
<line x1="53.1" y1="405.62" x2="318.5" y2="405.62" stroke="rgba(38,38,38,0.20)" stroke-width="0.6" stroke-dasharray="1 1.5"/>
<line x1="53.1" y1="380.48" x2="318.5" y2="380.48" stroke="rgba(38,38,38,0.20)" stroke-width="0.6" stroke-dasharray="1 1.5"/>
<line x1="53.1" y1="367.91" x2="318.5" y2="367.91" stroke="rgba(38,38,38,0.20)" stroke-width="0.6" stroke-dasharray="1 1.5"/>
<line x1="53.1" y1="355.34" x2="318.5" y2="355.34" stroke="rgba(38,38,38,0.20)" stroke-width="0.6" stroke-dasharray="1 1.5"/>
<line x1="53.1" y1="330.21" x2="318.5" y2="330.21" stroke="rgba(38,38,38,0.20)" stroke-width="0.6" stroke-dasharray="1 1.5"/>
<line x1="53.1" y1="317.64" x2="318.5" y2="317.64" stroke="rgba(38,38,38,0.20)" stroke-width="0.6" stroke-dasharray="1 1.5"/>
<line x1="53.1" y1="305.07" x2="318.5" y2="305.07" stroke="rgba(38,38,38,0.20)" stroke-width="0.6" stroke-dasharray="1 1.5"/>
<line x1="119.45" y1="292.5" x2="119.45" y2="493.6" stroke="rgba(38,38,38,0.10)" stroke-width="0.7" />
<line x1="185.8" y1="292.5" x2="185.8" y2="493.6" stroke="rgba(38,38,38,0.10)" stroke-width="0.7" />
<line x1="252.15" y1="292.5" x2="252.15" y2="493.6" stroke="rgba(38,38,38,0.10)" stroke-width="0.7" />
<line x1="53.1" y1="443.33" x2="318.5" y2="443.33" stroke="rgba(38,38,38,0.10)" stroke-width="0.7" />
<line x1="53.1" y1="393.05" x2="318.5" y2="393.05" stroke="rgba(38,38,38,0.10)" stroke-width="0.7" />
<line x1="53.1" y1="342.78" x2="318.5" y2="342.78" stroke="rgba(38,38,38,0.10)" stroke-width="0.7" />
<line x1="53.1" y1="342.78" x2="318.5" y2="342.78" stroke="#8c8c8c" stroke-width="0.8" />
<rect x="119.45" y="292.5" width="16.59" height="201.1" fill="#00ff00" stroke="none" stroke-width="1" fill-opacity="0.1"/>
<rect x="136.04" y="292.5" width="33.17" height="201.1" fill="#00ff00" stroke="none" stroke-width="1" fill-opacity="0.3"/>
<rect x="169.21" y="292.5" width="116.11" height="201.1" fill="#00ff00" stroke="none" stroke-width="1" fill-opacity="0.5"/>
<line x1="53.1" y1="493.6" x2="318.5" y2="493.6" stroke="#a4a4a4" stroke-width="1" />
<line x1="53.1" y1="292.5" x2="53.1" y2="494.1" stroke="#a4a4a4" stroke-width="1" />
<line x1="52.6" y1="292.5" x2="319" y2="292.5" stroke="#8a8a8a" stroke-width="1" />
<line x1="318.5" y1="292.5" x2="318.5" y2="494.1" stroke="#a4a4a4" stroke-width="1" />
<text x="52" y="510.3" font-size="12.3" text-anchor="middle" fill="#262626" color="#262626" font-weight="normal" >-20</text>
<line x1="119.45" y1="493.6" x2="119.45" y2="490.5" stroke="#8a8a8a" stroke-width="1" />
<line x1="119.45" y1="292.5" x2="119.45" y2="295.6" stroke="#8a8a8a" stroke-width="1" />
<text x="119.05" y="510.3" font-size="12.3" text-anchor="middle" fill="#262626" color="#262626" font-weight="normal" >0</text>
<line x1="185.8" y1="493.6" x2="185.8" y2="490.5" stroke="#8a8a8a" stroke-width="1" />
<line x1="185.8" y1="292.5" x2="185.8" y2="295.6" stroke="#8a8a8a" stroke-width="1" />
<text x="185.4" y="510.3" font-size="12.3" text-anchor="middle" fill="#262626" color="#262626" font-weight="normal" >20</text>
<line x1="252.15" y1="493.6" x2="252.15" y2="490.5" stroke="#8a8a8a" stroke-width="1" />
<line x1="252.15" y1="292.5" x2="252.15" y2="295.6" stroke="#8a8a8a" stroke-width="1" />
<text x="251.75" y="510.3" font-size="12.3" text-anchor="middle" fill="#262626" color="#262626" font-weight="normal" >40</text>
<text x="318.1" y="510.3" font-size="12.3" text-anchor="middle" fill="#262626" color="#262626" font-weight="normal" >60</text>
<text x="48.8" y="498.4" font-size="12.3" text-anchor="end" fill="#262626" color="#262626" font-weight="normal" >-0.6</text>
<line x1="53.1" y1="443.33" x2="56.2" y2="443.33" stroke="#8a8a8a" stroke-width="1" />
<line x1="318.5" y1="443.33" x2="315.4" y2="443.33" stroke="#8a8a8a" stroke-width="1" />
<text x="48.8" y="448.13" font-size="12.3" text-anchor="end" fill="#262626" color="#262626" font-weight="normal" >-0.4</text>
<line x1="53.1" y1="393.05" x2="56.2" y2="393.05" stroke="#8a8a8a" stroke-width="1" />
<line x1="318.5" y1="393.05" x2="315.4" y2="393.05" stroke="#8a8a8a" stroke-width="1" />
<text x="48.8" y="397.85" font-size="12.3" text-anchor="end" fill="#262626" color="#262626" font-weight="normal" >-0.2</text>
<line x1="53.1" y1="342.78" x2="56.2" y2="342.78" stroke="#8a8a8a" stroke-width="1" />
<line x1="318.5" y1="342.78" x2="315.4" y2="342.78" stroke="#8a8a8a" stroke-width="1" />
<text x="48.8" y="347.58" font-size="12.3" text-anchor="end" fill="#262626" color="#262626" font-weight="normal" >0</text>
<text x="48.8" y="297.3" font-size="12.3" text-anchor="end" fill="#262626" color="#262626" font-weight="normal" >0.2</text>
<text x="185.3" y="525.6" font-size="13.55" text-anchor="middle" fill="#262626" color="#262626" font-weight="normal" >Distance from outer most marsh edge (m)</text>
<text transform="translate(22.4,394.6) rotate(-90)" font-size="13.5" text-anchor="middle" fill="#262626" color="#262626">Contributed wave height change (m)</text>
<polyline points="106.1,342.6 115.3,341.5 119,338.1 135,337 158.4,335.5 168.6,333.4 179.6,330 192.9,324.2 208.5,319 233.1,321.2 284.8,314.6" fill="none" stroke="#D95319" stroke-width="2.4" stroke-linejoin="round" stroke-linecap="butt" />
<path d="M106.10,342.60 C110.92,342.82 130.18,343.68 135.00,343.90 C138.42,344.42 151.33,346.37 155.50,347.00 C159.67,347.63 157.93,347.32 160.00,347.70 C162.07,348.08 165.25,348.60 167.90,349.30 C170.55,350.00 173.25,350.70 175.90,351.90 C178.55,353.10 181.38,354.73 183.80,356.50 C186.22,358.27 188.20,360.18 190.40,362.50 C192.60,364.82 195.02,367.98 197.00,370.40 C198.98,372.82 200.53,374.57 202.30,377.00 C204.07,379.43 205.83,382.47 207.60,385.00 C209.37,387.53 211.13,390.22 212.90,392.20 C214.67,394.18 216.00,395.47 218.20,396.90 C220.40,398.33 223.45,399.70 226.10,400.80 C228.75,401.90 231.78,402.72 234.10,403.50 C236.42,404.28 236.85,404.37 240.00,405.50 C243.15,406.63 245.53,407.35 253.00,410.30 C260.47,413.25 279.50,421.05 284.80,423.20" fill="none" stroke="#EDB120" stroke-width="2.4" stroke-linejoin="round" />
<path d="M106.10,342.60 C112.38,342.93 134.82,344.15 143.80,344.60 C152.78,345.05 153.33,344.85 160.00,345.30 C166.67,345.75 176.08,346.53 183.80,347.30 C191.52,348.07 196.93,348.92 206.30,349.90 C215.67,350.88 226.92,351.80 240.00,353.20 C253.08,354.60 277.33,357.45 284.80,358.30" fill="none" stroke="#7E2F8E" stroke-width="2.4" stroke-linejoin="round" />
<rect x="57.9" y="445.6" width="98.4" height="42.6" fill="#f0f0f0" stroke="#a0a0a0" stroke-width="1" />
<line x1="60.4" y1="453.7" x2="78.7" y2="453.7" stroke="#D95319" stroke-width="2.4" />
<text x="81.2" y="457.6" font-size="10.8" text-anchor="start" fill="#1a1a1a" color="#1a1a1a" font-weight="normal" >Shoaling</text>
<line x1="60.4" y1="467.3" x2="78.7" y2="467.3" stroke="#EDB120" stroke-width="2.4" />
<text x="81.2" y="471.2" font-size="10.8" text-anchor="start" fill="#1a1a1a" color="#1a1a1a" font-weight="normal" >Wave breaking</text>
<line x1="60.4" y1="480.9" x2="78.7" y2="480.9" stroke="#7E2F8E" stroke-width="2.4" />
<text x="81.2" y="484.8" font-size="10.8" text-anchor="start" fill="#1a1a1a" color="#1a1a1a" font-weight="normal" >Bed friction</text>
<text x="0" y="275.2" font-size="14" text-anchor="start" fill="#000" color="#000" font-weight="bold" >(c)</text>
</g>
<g id="pd">
<line x1="394.19" y1="291.5" x2="394.19" y2="493.8" stroke="rgba(38,38,38,0.20)" stroke-width="0.6" stroke-dasharray="1 1.5"/>
<line x1="410.88" y1="291.5" x2="410.88" y2="493.8" stroke="rgba(38,38,38,0.20)" stroke-width="0.6" stroke-dasharray="1 1.5"/>
<line x1="427.56" y1="291.5" x2="427.56" y2="493.8" stroke="rgba(38,38,38,0.20)" stroke-width="0.6" stroke-dasharray="1 1.5"/>
<line x1="460.94" y1="291.5" x2="460.94" y2="493.8" stroke="rgba(38,38,38,0.20)" stroke-width="0.6" stroke-dasharray="1 1.5"/>
<line x1="477.62" y1="291.5" x2="477.62" y2="493.8" stroke="rgba(38,38,38,0.20)" stroke-width="0.6" stroke-dasharray="1 1.5"/>
<line x1="494.31" y1="291.5" x2="494.31" y2="493.8" stroke="rgba(38,38,38,0.20)" stroke-width="0.6" stroke-dasharray="1 1.5"/>
<line x1="527.69" y1="291.5" x2="527.69" y2="493.8" stroke="rgba(38,38,38,0.20)" stroke-width="0.6" stroke-dasharray="1 1.5"/>
<line x1="544.38" y1="291.5" x2="544.38" y2="493.8" stroke="rgba(38,38,38,0.20)" stroke-width="0.6" stroke-dasharray="1 1.5"/>
<line x1="561.06" y1="291.5" x2="561.06" y2="493.8" stroke="rgba(38,38,38,0.20)" stroke-width="0.6" stroke-dasharray="1 1.5"/>
<line x1="594.44" y1="291.5" x2="594.44" y2="493.8" stroke="rgba(38,38,38,0.20)" stroke-width="0.6" stroke-dasharray="1 1.5"/>
<line x1="611.12" y1="291.5" x2="611.12" y2="493.8" stroke="rgba(38,38,38,0.20)" stroke-width="0.6" stroke-dasharray="1 1.5"/>
<line x1="627.81" y1="291.5" x2="627.81" y2="493.8" stroke="rgba(38,38,38,0.20)" stroke-width="0.6" stroke-dasharray="1 1.5"/>
<line x1="377.5" y1="481.16" x2="644.5" y2="481.16" stroke="rgba(38,38,38,0.20)" stroke-width="0.6" stroke-dasharray="1 1.5"/>
<line x1="377.5" y1="468.51" x2="644.5" y2="468.51" stroke="rgba(38,38,38,0.20)" stroke-width="0.6" stroke-dasharray="1 1.5"/>
<line x1="377.5" y1="455.87" x2="644.5" y2="455.87" stroke="rgba(38,38,38,0.20)" stroke-width="0.6" stroke-dasharray="1 1.5"/>
<line x1="377.5" y1="430.58" x2="644.5" y2="430.58" stroke="rgba(38,38,38,0.20)" stroke-width="0.6" stroke-dasharray="1 1.5"/>
<line x1="377.5" y1="417.94" x2="644.5" y2="417.94" stroke="rgba(38,38,38,0.20)" stroke-width="0.6" stroke-dasharray="1 1.5"/>
<line x1="377.5" y1="405.29" x2="644.5" y2="405.29" stroke="rgba(38,38,38,0.20)" stroke-width="0.6" stroke-dasharray="1 1.5"/>
<line x1="377.5" y1="380.01" x2="644.5" y2="380.01" stroke="rgba(38,38,38,0.20)" stroke-width="0.6" stroke-dasharray="1 1.5"/>
<line x1="377.5" y1="367.36" x2="644.5" y2="367.36" stroke="rgba(38,38,38,0.20)" stroke-width="0.6" stroke-dasharray="1 1.5"/>
<line x1="377.5" y1="354.72" x2="644.5" y2="354.72" stroke="rgba(38,38,38,0.20)" stroke-width="0.6" stroke-dasharray="1 1.5"/>
<line x1="377.5" y1="329.43" x2="644.5" y2="329.43" stroke="rgba(38,38,38,0.20)" stroke-width="0.6" stroke-dasharray="1 1.5"/>
<line x1="377.5" y1="316.79" x2="644.5" y2="316.79" stroke="rgba(38,38,38,0.20)" stroke-width="0.6" stroke-dasharray="1 1.5"/>
<line x1="377.5" y1="304.14" x2="644.5" y2="304.14" stroke="rgba(38,38,38,0.20)" stroke-width="0.6" stroke-dasharray="1 1.5"/>
<line x1="444.25" y1="291.5" x2="444.25" y2="493.8" stroke="rgba(38,38,38,0.10)" stroke-width="0.7" />
<line x1="511" y1="291.5" x2="511" y2="493.8" stroke="rgba(38,38,38,0.10)" stroke-width="0.7" />
<line x1="577.75" y1="291.5" x2="577.75" y2="493.8" stroke="rgba(38,38,38,0.10)" stroke-width="0.7" />
<line x1="377.5" y1="443.23" x2="644.5" y2="443.23" stroke="rgba(38,38,38,0.10)" stroke-width="0.7" />
<line x1="377.5" y1="392.65" x2="644.5" y2="392.65" stroke="rgba(38,38,38,0.10)" stroke-width="0.7" />
<line x1="377.5" y1="342.08" x2="644.5" y2="342.08" stroke="rgba(38,38,38,0.10)" stroke-width="0.7" />
<line x1="377.5" y1="342.08" x2="644.5" y2="342.08" stroke="#8c8c8c" stroke-width="0.8" />
<rect x="444.25" y="291.5" width="16.69" height="202.3" fill="#00ff00" stroke="none" stroke-width="1" fill-opacity="0.1"/>
<rect x="460.94" y="291.5" width="33.38" height="202.3" fill="#00ff00" stroke="none" stroke-width="1" fill-opacity="0.3"/>
<rect x="494.31" y="291.5" width="116.81" height="202.3" fill="#00ff00" stroke="none" stroke-width="1" fill-opacity="0.5"/>
<line x1="377.5" y1="493.8" x2="644.5" y2="493.8" stroke="#a4a4a4" stroke-width="1" />
<line x1="377.5" y1="291.5" x2="377.5" y2="494.3" stroke="#a4a4a4" stroke-width="1" />
<line x1="377" y1="291.5" x2="645" y2="291.5" stroke="#8a8a8a" stroke-width="1" />
<line x1="644.5" y1="291.5" x2="644.5" y2="494.3" stroke="#a4a4a4" stroke-width="1" />
<text x="376.4" y="510.5" font-size="12.3" text-anchor="middle" fill="#262626" color="#262626" font-weight="normal" >-20</text>
<line x1="444.25" y1="493.8" x2="444.25" y2="490.7" stroke="#8a8a8a" stroke-width="1" />
<line x1="444.25" y1="291.5" x2="444.25" y2="294.6" stroke="#8a8a8a" stroke-width="1" />
<text x="443.85" y="510.5" font-size="12.3" text-anchor="middle" fill="#262626" color="#262626" font-weight="normal" >0</text>
<line x1="511" y1="493.8" x2="511" y2="490.7" stroke="#8a8a8a" stroke-width="1" />
<line x1="511" y1="291.5" x2="511" y2="294.6" stroke="#8a8a8a" stroke-width="1" />
<text x="510.6" y="510.5" font-size="12.3" text-anchor="middle" fill="#262626" color="#262626" font-weight="normal" >20</text>
<line x1="577.75" y1="493.8" x2="577.75" y2="490.7" stroke="#8a8a8a" stroke-width="1" />
<line x1="577.75" y1="291.5" x2="577.75" y2="294.6" stroke="#8a8a8a" stroke-width="1" />
<text x="577.35" y="510.5" font-size="12.3" text-anchor="middle" fill="#262626" color="#262626" font-weight="normal" >40</text>
<text x="644.1" y="510.5" font-size="12.3" text-anchor="middle" fill="#262626" color="#262626" font-weight="normal" >60</text>
<text x="373.2" y="498.6" font-size="12.3" text-anchor="end" fill="#262626" color="#262626" font-weight="normal" >-0.6</text>
<line x1="377.5" y1="443.23" x2="380.6" y2="443.23" stroke="#8a8a8a" stroke-width="1" />
<line x1="644.5" y1="443.23" x2="641.4" y2="443.23" stroke="#8a8a8a" stroke-width="1" />
<text x="373.2" y="448.03" font-size="12.3" text-anchor="end" fill="#262626" color="#262626" font-weight="normal" >-0.4</text>
<line x1="377.5" y1="392.65" x2="380.6" y2="392.65" stroke="#8a8a8a" stroke-width="1" />
<line x1="644.5" y1="392.65" x2="641.4" y2="392.65" stroke="#8a8a8a" stroke-width="1" />
<text x="373.2" y="397.45" font-size="12.3" text-anchor="end" fill="#262626" color="#262626" font-weight="normal" >-0.2</text>
<line x1="377.5" y1="342.08" x2="380.6" y2="342.08" stroke="#8a8a8a" stroke-width="1" />
<line x1="644.5" y1="342.08" x2="641.4" y2="342.08" stroke="#8a8a8a" stroke-width="1" />
<text x="373.2" y="346.88" font-size="12.3" text-anchor="end" fill="#262626" color="#262626" font-weight="normal" >0</text>
<text x="373.2" y="296.3" font-size="12.3" text-anchor="end" fill="#262626" color="#262626" font-weight="normal" >0.2</text>
<text x="510.5" y="525.6" font-size="13.55" text-anchor="middle" fill="#262626" color="#262626" font-weight="normal" >Distance from outer most marsh edge (m)</text>
<text transform="translate(346.2,394.1) rotate(-90)" font-size="13.5" text-anchor="middle" fill="#262626" color="#262626">Contributed wave height change (m)</text>
<path d="M431.00,342.20 C433.17,342.22 441.83,342.28 444.00,342.30 C446.67,344.40 457.33,352.80 460.00,354.90 C461.72,356.48 466.97,361.25 470.30,364.40 C473.63,367.55 476.18,370.18 480.00,373.80 C483.82,377.42 489.42,382.32 493.20,386.10 C496.98,389.88 499.55,392.88 502.70,396.50 C505.85,400.12 508.95,403.87 512.10,407.80 C515.25,411.73 518.45,415.85 521.60,420.10 C524.75,424.35 528.17,429.52 531.00,433.30 C533.83,437.08 536.07,439.97 538.60,442.80 C541.13,445.63 543.68,448.10 546.20,450.30 C548.72,452.50 551.40,454.27 553.70,456.00 C556.00,457.73 557.78,459.20 560.00,460.70 C562.22,462.20 564.18,463.40 567.00,465.00 C569.82,466.60 572.57,468.05 576.90,470.30 C581.23,472.55 587.43,475.75 593.00,478.50 C598.57,481.25 607.42,485.42 610.30,486.80" fill="none" stroke="#0072BD" stroke-width="2.4" stroke-linejoin="round" />
<polyline points="431,342.2 440.3,340.8 444,337.8 460,336.7 480,335.4 493.3,332.9 518.8,326.2 533.5,323.7 557.7,324.7 610.5,322.2" fill="none" stroke="#D95319" stroke-width="2.4" stroke-linejoin="round" stroke-linecap="butt" />
<path d="M431.00,342.20 C437.30,342.37 460.63,342.95 468.80,343.20 C476.97,343.45 469.28,343.30 480.00,343.70 C490.72,344.10 511.35,345.15 533.10,345.60 C554.85,346.05 597.60,346.27 610.50,346.40" fill="none" stroke="#EDB120" stroke-width="2.4" stroke-linejoin="round" />
<path d="M431.00,342.20 C439.17,342.55 466.72,343.60 480.00,344.30 C493.28,345.00 500.48,345.72 510.70,346.40 C520.92,347.08 531.08,347.82 541.30,348.40 C551.52,348.98 560.47,349.48 572.00,349.90 C583.53,350.32 604.08,350.73 610.50,350.90" fill="none" stroke="#7E2F8E" stroke-width="2.4" stroke-linejoin="round" />
<rect x="382.4" y="432.3" width="98.9" height="56.9" fill="#f0f0f0" stroke="#a0a0a0" stroke-width="1" />
<line x1="384.9" y1="440.4" x2="403.2" y2="440.4" stroke="#0072BD" stroke-width="2.4" />
<text x="405.7" y="444.3" font-size="10.8" text-anchor="start" fill="#1a1a1a" color="#1a1a1a" font-weight="normal" >Vegetation</text>
<line x1="384.9" y1="454" x2="403.2" y2="454" stroke="#D95319" stroke-width="2.4" />
<text x="405.7" y="457.9" font-size="10.8" text-anchor="start" fill="#1a1a1a" color="#1a1a1a" font-weight="normal" >Shoaling</text>
<line x1="384.9" y1="467.6" x2="403.2" y2="467.6" stroke="#EDB120" stroke-width="2.4" />
<text x="405.7" y="471.5" font-size="10.8" text-anchor="start" fill="#1a1a1a" color="#1a1a1a" font-weight="normal" >Wave breaking</text>
<line x1="384.9" y1="481.2" x2="403.2" y2="481.2" stroke="#7E2F8E" stroke-width="2.4" />
<text x="405.7" y="485.1" font-size="10.8" text-anchor="start" fill="#1a1a1a" color="#1a1a1a" font-weight="normal" >Bed friction</text>
<text x="322.3" y="275.2" font-size="14" text-anchor="start" fill="#000" color="#000" font-weight="bold" >(d)</text>
</g>
</svg></body></html>
